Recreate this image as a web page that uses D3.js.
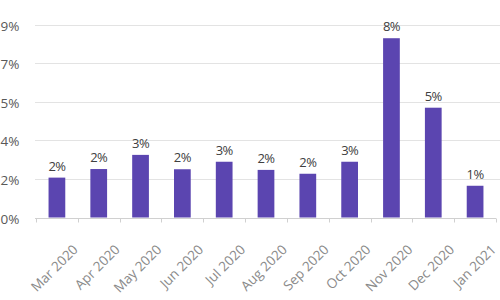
<!DOCTYPE html>
<html>
<head>
<meta charset="utf-8">
<script src="https://cdn.jsdelivr.net/npm/d3@7"></script>
<style>
  body { margin: 0; background: #fff; }
  svg { display: block; }
  text { font-family: "Open Sans", "Liberation Sans", sans-serif; }
</style>
</head>
<body>
<svg id="chart" width="500" height="300"></svg>
<script>
const categories = ["Mar 2020", "Apr 2020", "May 2020", "Jun 2020", "Jul 2020", "Aug 2020",
                    "Sep 2020", "Oct 2020", "Nov 2020", "Dec 2020", "Jan 2021"];
const values = [0.0186, 0.0226, 0.0292, 0.0225, 0.0260, 0.0222, 0.0204, 0.0260, 0.0836, 0.0512, 0.0148];
const yTicks = [0, 0.018, 0.036, 0.054, 0.072, 0.09];

const svg = d3.select("#chart");
const margin = { left: 36, right: 4, top: 24.5, bottom: 82.5 };
const W = 500, H = 300;

const x = d3.scaleBand().domain(categories).range([margin.left, W - margin.right]).paddingInner(0.6).paddingOuter(0.3);
const xb = d3.scaleBand().domain(categories).range([margin.left, W - margin.right]);
const y = d3.scaleLinear().domain([0, 0.09]).range([H - margin.bottom, margin.top]);
const fmt = d3.format(".0%");

// gridlines
svg.append("g").selectAll("line").data(yTicks.slice(1)).join("line")
  .attr("x1", margin.left - 1).attr("x2", W)
  .attr("y1", d => Math.round(y(d)) + 0.5).attr("y2", d => Math.round(y(d)) + 0.5)
  .attr("stroke", "#e3e3e3").attr("stroke-width", 1.2);

// y labels
svg.append("g").selectAll("text").data(yTicks).join("text")
  .attr("x", 19.5).attr("y", d => y(d) + 2.5)
  .attr("text-anchor", "end").attr("dominant-baseline", "middle")
  .attr("font-size", 13.5).attr("fill", "#595959")
  .text(d => fmt(d));

// bars
svg.append("g").selectAll("rect").data(values).join("rect")
  .attr("x", (d, i) => x(categories[i]))
  .attr("width", x.bandwidth())
  .attr("y", d => y(d))
  .attr("height", d => y(0) - y(d))
  .attr("fill", "#5b45b0");

// data labels
svg.append("g").selectAll("text").data(values).join("text")
  .attr("x", (d, i) => x(categories[i]) + x.bandwidth() / 2)
  .attr("y", d => y(d) - 7)
  .attr("text-anchor", "middle")
  .attr("font-size", 13).attr("letter-spacing", -0.6).attr("fill", "#404040")
  .text(d => fmt(d));

// x axis line and ticks
const base = Math.round(y(0)) + 0.5;
svg.append("line").attr("x1", margin.left - 1).attr("x2", W - margin.right)
  .attr("y1", base).attr("y2", base).attr("stroke", "#d0d0d0");
const tickPos = categories.map(c => xb(c)).concat([xb.range()[1]]);
svg.append("g").selectAll("line").data(tickPos).join("line")
  .attr("x1", d => Math.round(d) + 0.5).attr("x2", d => Math.round(d) + 0.5)
  .attr("y1", base).attr("y2", base + 4).attr("stroke", "#d0d0d0");

// x labels
svg.append("g").selectAll("text").data(categories).join("text")
  .attr("transform", c => `translate(${xb(c) + xb.bandwidth() / 2 + 14},${base + 24}) rotate(-45)`)
  .attr("text-anchor", "end").attr("dominant-baseline", "hanging")
  .attr("font-size", 13.5).attr("fill", "#8a8a8a")
  .text(c => c);
</script>
</body>
</html>
